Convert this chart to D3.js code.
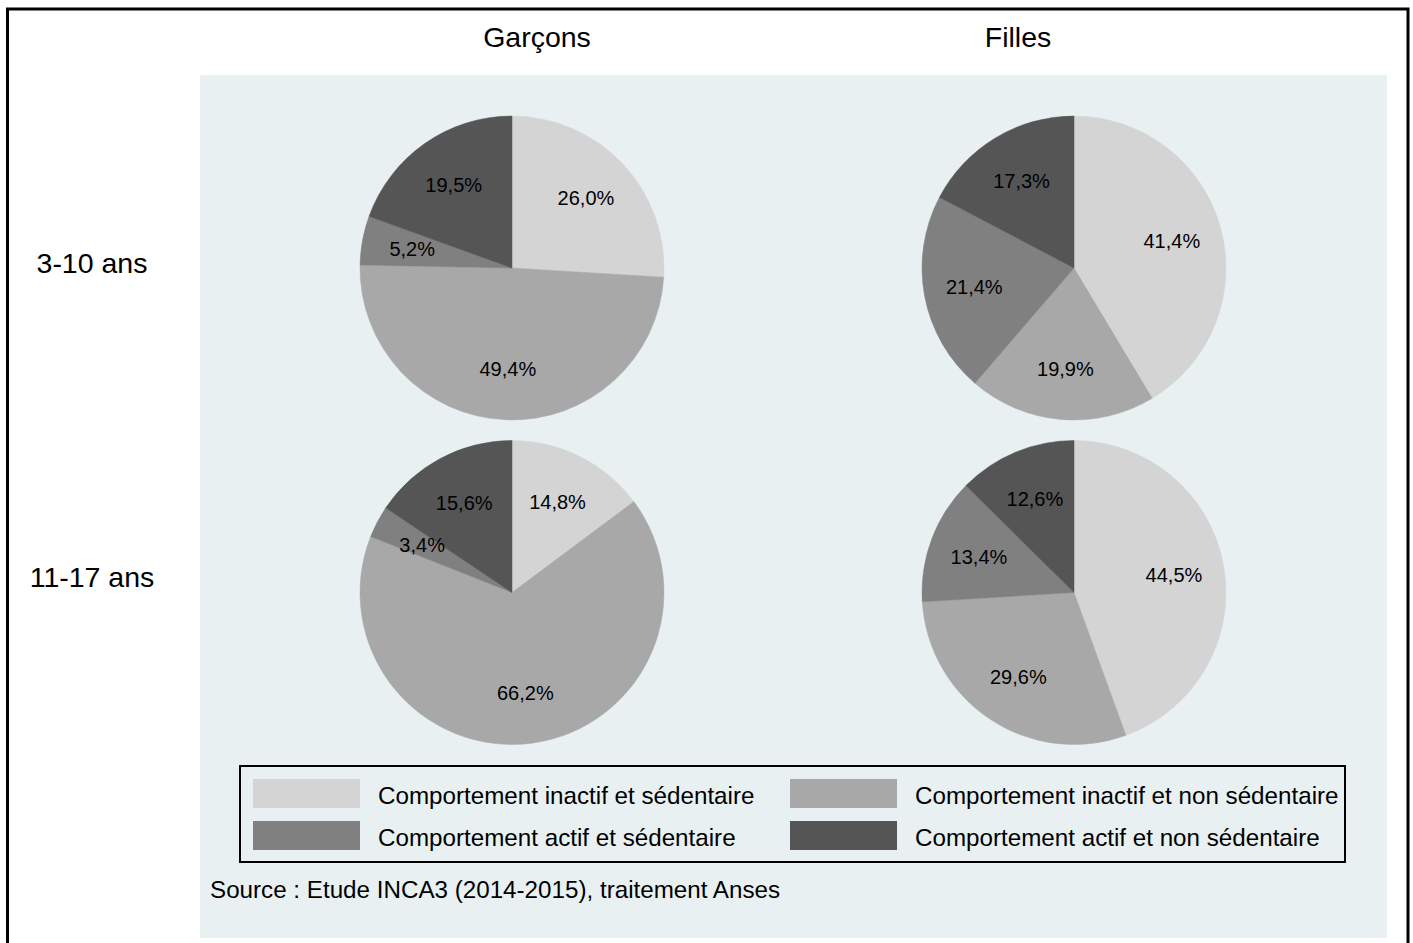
<!DOCTYPE html>
<html>
<head>
<meta charset="utf-8">
<script src="https://cdn.jsdelivr.net/npm/d3@7"></script>
<style>
  html, body { margin: 0; padding: 0; background: #ffffff; }
  svg { display: block; }
  text { font-family: "Liberation Sans", Arial, sans-serif; fill: #000; }
</style>
</head>
<body>
<svg id="chart" width="1413" height="943"></svg>
<script>
// ---- Data ----
const categories = [
  "Comportement inactif et sédentaire",
  "Comportement inactif et non sédentaire",
  "Comportement actif et sédentaire",
  "Comportement actif et non sédentaire"
];
const genders = ["Garçons", "Filles"];
const ageGroups = ["3-10 ans", "11-17 ans"];
const garcons_3_10 = [26.0, 49.4, 5.2, 19.5];
const filles_3_10 = [41.4, 19.9, 21.4, 17.3];
const garcons_11_17 = [14.8, 66.2, 3.4, 15.6];
const filles_11_17 = [44.5, 29.6, 13.4, 12.6];
const sourceText = "Source : Etude INCA3 (2014-2015), traitement Anses";

const panels = [
  { gender: 0, age: 0, values: garcons_3_10 },
  { gender: 1, age: 0, values: filles_3_10 },
  { gender: 0, age: 1, values: garcons_11_17 },
  { gender: 1, age: 1, values: filles_11_17 }
];

// ---- Styles / layout ----
const colors = ["#d4d4d4", "#a8a8a8", "#808080", "#555555"];
const svg = d3.select("#chart");

// outer frame
svg.append("rect")
  .attr("x", 7.5).attr("y", 9).attr("width", 1400.5).attr("height", 960)
  .attr("fill", "none").attr("stroke", "#000").attr("stroke-width", 3);

// plot region background
svg.append("rect")
  .attr("x", 200).attr("y", 75).attr("width", 1187).attr("height", 863)
  .attr("fill", "#e9f0f2");

const colX = d3.scaleOrdinal().domain([0, 1]).range([512, 1074]);
const rowY = d3.scaleOrdinal().domain([0, 1]).range([268, 592.5]);
const titleX = d3.scaleOrdinal().domain([0, 1]).range([537, 1018]);
const rowLabelY = d3.scaleOrdinal().domain([0, 1]).range([263, 577]);
const radius = 152;

const pie = d3.pie().sort(null).value(d => d);
const arc = d3.arc().innerRadius(0).outerRadius(radius);
const labelArc = d3.arc().innerRadius(101.5).outerRadius(101.5);
const fmt = v => d3.format(".1f")(v).replace(".", ",") + "%";

// column titles
svg.selectAll("text.coltitle").data(genders).join("text")
  .attr("class", "coltitle")
  .attr("x", (d, i) => titleX(i)).attr("y", 37)
  .attr("text-anchor", "middle").attr("dominant-baseline", "central")
  .attr("font-size", 28.5).text(d => d);

// row labels
svg.selectAll("text.rowlabel").data(ageGroups).join("text")
  .attr("class", "rowlabel")
  .attr("x", 92).attr("y", (d, i) => rowLabelY(i))
  .attr("text-anchor", "middle").attr("dominant-baseline", "central")
  .attr("font-size", 28.5).text(d => d);

panels.forEach(p => {
  const g = svg.append("g")
    .attr("transform", `translate(${colX(p.gender)},${rowY(p.age)})`);
  const arcs = pie(p.values);
  g.selectAll("path").data(arcs).join("path")
    .attr("d", arc)
    .attr("fill", (d, i) => colors[i])
    .attr("stroke", (d, i) => colors[i])
    .attr("stroke-width", 0.5);
  g.selectAll("text").data(arcs).join("text")
    .attr("transform", d => `translate(${labelArc.centroid(d)})`)
    .attr("text-anchor", "middle").attr("dominant-baseline", "central")
    .attr("font-size", 20)
    .text(d => fmt(d.data));
});

// legend
const legend = svg.append("g");
legend.append("rect")
  .attr("x", 240).attr("y", 766).attr("width", 1105).attr("height", 96)
  .attr("fill", "#e9f0f2").attr("stroke", "#000").attr("stroke-width", 2);
const legX = [253, 790];
const legY = [779, 821];
const items = legend.selectAll("g.item").data(categories).join("g")
  .attr("class", "item")
  .attr("transform", (d, i) => `translate(${legX[i % 2]},${legY[Math.floor(i / 2)]})`);
items.append("rect")
  .attr("width", 107).attr("height", 29)
  .attr("fill", (d, i) => colors[i]);
items.append("text")
  .attr("x", 125).attr("y", 16)
  .attr("dominant-baseline", "central")
  .attr("font-size", 24.2)
  .text(d => d);

// source
svg.append("text")
  .attr("x", 210).attr("y", 889)
  .attr("dominant-baseline", "central")
  .attr("font-size", 24.2)
  .text(sourceText);
</script>
</body>
</html>
